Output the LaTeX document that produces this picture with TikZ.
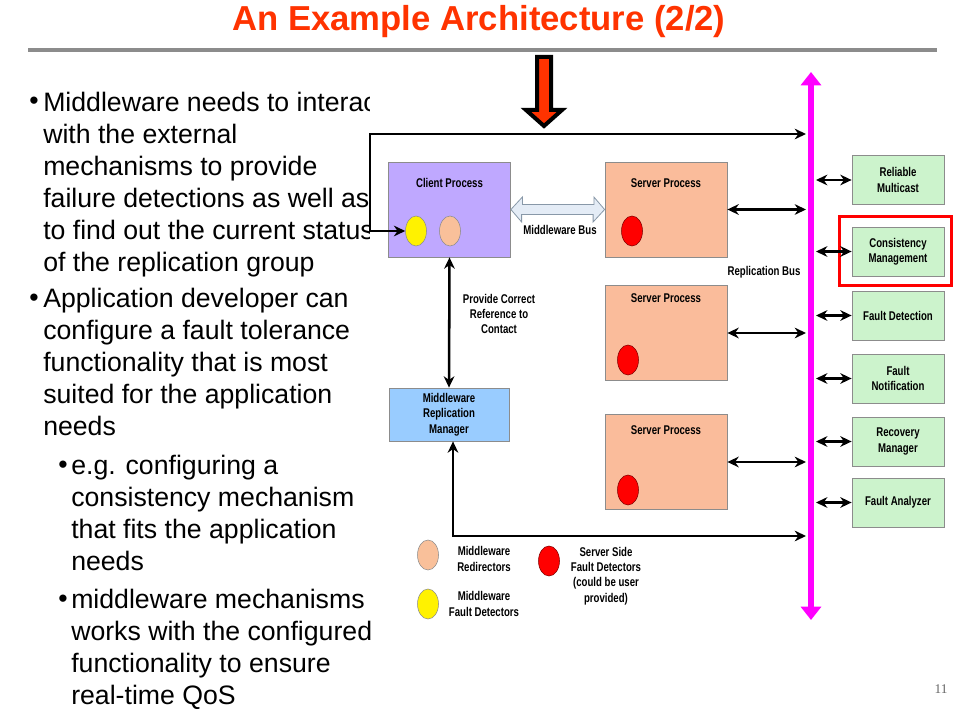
\documentclass[tikz,border=0pt]{standalone}
\usepackage{fontspec}
\setmainfont{Liberation Sans}
\newfontfamily\narrowfont[FakeStretch=0.76]{Liberation Sans}
\newfontfamily\pagefont{Liberation Serif}
\usetikzlibrary{arrows.meta,shapes.geometric}
\definecolor{title_red}{RGB}{255,51,0}
\definecolor{rule_gray}{RGB}{140,140,140}
\definecolor{box_gray}{RGB}{140,140,140}
\definecolor{client_purple}{RGB}{191,168,255}
\definecolor{server_peach}{RGB}{250,188,155}
\definecolor{mrm_blue}{RGB}{153,204,255}
\definecolor{func_green}{RGB}{204,243,204}
\definecolor{bus_magenta}{RGB}{255,0,255}
\definecolor{redir_peach}{RGB}{249,192,154}
\definecolor{mwbus_fill}{RGB}{228,236,246}
\definecolor{mwbus_edge}{RGB}{136,152,168}
\newlength\px
\setlength\px{0.75pt}

\begin{document}
\begin{tikzpicture}[x=0.75pt,y=-0.75pt,>={Stealth[length=8.5pt,width=8pt]}]
    \tikzstyle{lbl}=[font=\narrowfont\bfseries\fontsize{9.5}{11.5}\selectfont, align=center, inner sep=0pt]
    \tikzstyle{txt}=[font=\fontsize{20}{24}\selectfont, align=left, inner sep=0pt, anchor=north west]
    \tikzstyle{bul}=[font=\fontsize{20}{24}\selectfont, inner sep=0pt, anchor=base west]
    \tikzstyle{proc}=[draw=box_gray, line width=0.6pt, minimum width=122\px, minimum height=95\px, inner sep=0pt]
    \tikzstyle{func}=[lbl, draw=box_gray, line width=0.6pt, fill=func_green, minimum width=92\px, minimum height=49\px]
    \tikzstyle{dot}=[ellipse, draw=black!45, line width=0.4pt, minimum width=21\px, minimum height=30\px, inner sep=0pt]
    \tikzstyle{dbl}=[<->, line width=1.9pt]
    \tikzstyle{busline}=[{Triangle[length=10pt,width=15pt]}-{Triangle[length=10pt,width=15pt]}, line width=4.2pt, draw=bus_magenta]

    \useasboundingbox (0,0) rectangle (960,720);

    % title
    \node[font=\fontsize{26}{30}\selectfont\bfseries, text=title_red] (title) at (479,22) {An Example Architecture (2/2)};
    \draw[rule_gray, line width=3pt] (28,50.5) -- (937,50.5);

    % left text
    \node[bul] (d1) at (29,110) {•};
    \node[txt] (t1) at (43,91.5) {Middleware needs to interact\\with the external\\mechanisms to provide\\failure detections as well as\\to find out the current status\\of the replication group};
    \node[bul] (d2) at (29,306) {•};
    \node[txt] (t2) at (43,287.5) {Application developer can\\configure a fault tolerance\\functionality that is most\\suited for the application\\needs};
    \node[bul] (d3) at (58,473) {•};
    \node[txt] (t3) at (71,454.5) {e.g. configuring a\\consistency mechanism\\that fits the application\\needs};
    \node[bul] (d4) at (58,607) {•};
    \node[txt] (t4) at (71,588.5) {middleware mechanisms\\works with the configured\\functionality to ensure\\real-time QoS};
    \fill[white] (370,58) rectangle (835,620);

    % processes
    \node[proc, fill=client_purple] (cp) at (449.5,209.5) {};
    \node[lbl] (cpt) at (449.5,183) {Client Process};
    \node[dot, fill=yellow] (mfd) at (416,231) {};
    \node[dot, fill=redir_peach] (mr) at (450,231) {};
    \node[proc, fill=server_peach] (sp1) at (666,209.5) {};
    \node[lbl] (sp1t) at (666,183) {Server Process};
    \node[dot, fill=red, draw=red!50!black] (sfd1) at (632,231) {};
    \node[proc, fill=server_peach] (sp2) at (666,333) {};
    \node[lbl] (sp2t) at (666,298) {Server Process};
    \node[dot, fill=red, draw=red!50!black] (sfd2) at (628,360) {};
    \node[proc, fill=server_peach] (sp3) at (666,462) {};
    \node[lbl] (sp3t) at (666,430) {Server Process};
    \node[dot, fill=red, draw=red!50!black] (sfd3) at (628,490) {};
    \node[lbl, draw=box_gray, line width=0.6pt, fill=mrm_blue, minimum width=120\px, minimum height=53\px] (mrm) at (449,414.5) {Middleware\\Replication\\Manager};

    % middleware bus
    \draw[fill=mwbus_fill, draw=mwbus_edge, line width=0.6pt] (cp.east) -- ++(11.5,-12.5) -- ++(0,7.5) -- ++(71.5,0) -- ++(0,-7.5)
      -- (sp1.west) -- ++(-11.5,12.5) -- ++(0,-7.5) -- ++(-71.5,0) -- ++(0,7.5) -- cycle;
    \node[lbl] (mwb) at (560,230) {Middleware Bus};

    % replication bus
    \coordinate (bt) at (811,72);
    \coordinate (bb) at (811,620);
    \coordinate (bl) at (806,0);
    \coordinate (br) at (816,0);
    \draw[busline] (bt) -- (bb);
    \node[lbl] (rb) at (764,272) {Replication Bus};

    % external mechanisms
    \node[func] (rm) at (898,180) {Reliable\\Multicast};
    \node[func] (cm) at (898,251.5) {Consistency\\Management};
    \node[func] (fd) at (898,315.5) {Fault Detection};
    \node[func] (fn) at (898,378.5) {Fault\\Notification};
    \node[func] (rcm) at (898,441.5) {Recovery\\Manager};
    \node[func] (fa) at (898,502.5) {Fault Analyzer};
    \node[draw=red, line width=2.4pt, minimum width=112\px, minimum height=69\px, inner sep=0pt] (hl) at (895.5,251) {};
    \foreach \f in {rm,cm,fd,fn,rcm,fa}
      \draw[dbl] (\f.west -| br) -- (\f.west);

    % connectors
    \draw[dbl] (sp1.east) -- (sp1.east -| bl);
    \draw[dbl] (sp2.east) -- (sp2.east -| bl);
    \draw[dbl] (sp3.east) -- (sp3.east -| bl);
    \coordinate (kink) at (370,134);
    \coordinate (b3) at (806,536);
    \draw[dbl] (mfd.west) -| (kink) -- (kink -| bl);
    \draw[dbl] (cp.south) -- (mrm.north);
    \draw[dbl] ([xshift=3pt]mrm.south) |- (b3);
    \node[lbl] (pcr) at (499,314) {Provide Correct\\Reference to\\Contact};

    % pointer
    \draw[fill=title_red, draw=black, line width=3pt, line join=miter]
      (537,57) -- (551,57) -- (551,110) -- (562,110) -- (544,126) -- (526,110) -- (537,110) -- cycle;

    % legend
    \node[dot, fill=redir_peach] (lg1) at (428,555) {};
    \node[lbl] (lg1t) at (484,559) {Middleware\\Redirectors};
    \node[dot, fill=yellow] (lg2) at (428,604) {};
    \node[lbl] (lg2t) at (484,604) {Middleware\\Fault Detectors};
    \node[dot, fill=red, draw=red!50!black] (lg3) at (549,561) {};
    \node[lbl] (lg3t) at (606,576) {Server Side\\Fault Detectors\\(could be user\\provided)};

    \node[font=\pagefont\fontsize{10}{12}\selectfont, text=black!60] (pg) at (941,689) {11};
\end{tikzpicture}
\end{document}
